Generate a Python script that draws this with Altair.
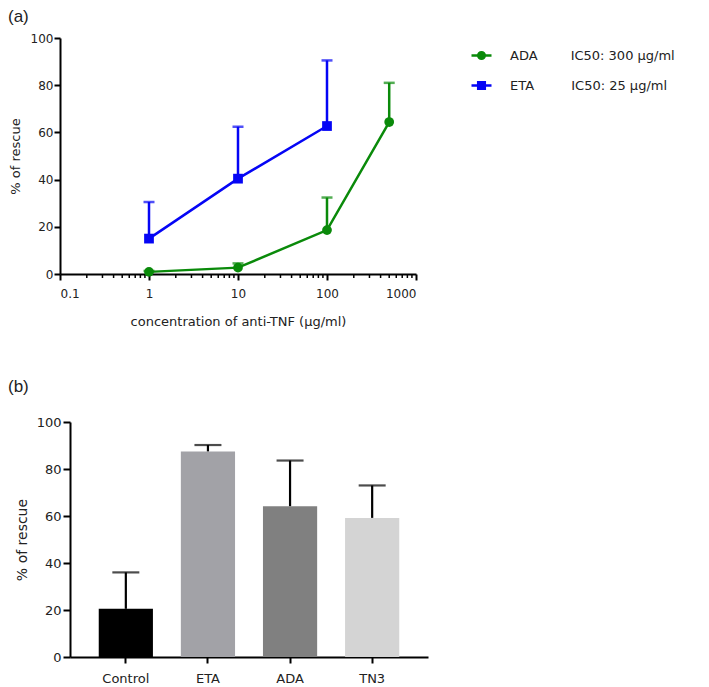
import altair as alt
import pandas as pd

# ---------------- data: panel (a) ----------------
series_a = ["ADA", "ADA", "ADA", "ADA", "ETA", "ETA", "ETA"]
conc_a = [1, 10, 100, 500, 1, 10, 100]
mean_a = [0.9, 2.7, 18.6, 64.4, 15.0, 40.4, 62.7]
upper_a = [1.3, 4.5, 32.4, 81.0, 30.5, 62.4, 90.5]

major_ticks = [0.1, 1, 10, 100, 1000]
minor_ticks = [0.2, 0.3, 0.4, 0.5, 0.6, 0.7, 0.8, 0.9,
               2, 3, 4, 5, 6, 7, 8, 9,
               20, 30, 40, 50, 60, 70, 80, 90,
               200, 300, 400, 500, 600, 700, 800, 900]

NB = "\u00a0"
legend_series = ["ADA", "ETA"]
legend_labels = ["ADA" + NB * 8 + "IC50:" + NB + "300" + NB + "μg/ml",
                 "ETA" + NB * 9 + "IC50:" + NB + "25" + NB + "μg/ml"]

panel_labels = ["(a)", "(b)"]

# ---------------- data: panel (b) ----------------
groups_b = ["Control", "ETA", "ADA", "TN3"]
mean_b = [20.5, 87.5, 64.2, 59.2]
upper_b = [36.0, 90.2, 83.6, 73.0]

GREEN = "#0a8a0a"
BLUE = "#0505f5"
bar_colors = ["#000000", "#a2a2a7", "#808080", "#d4d4d4"]

FONT = "DejaVu Sans"

df_a = pd.DataFrame({"series": series_a, "conc": conc_a, "mean": mean_a, "upper": upper_a})
df_minor = pd.DataFrame({"conc": minor_ticks})
df_leg = pd.DataFrame({"label": legend_labels, "series": legend_series})
df_b = pd.DataFrame({"group": groups_b, "mean": mean_b, "upper": upper_b})

W_A, H_A = 356, 236
SHIFT_B = 10
W_B, H_B = 358 + SHIFT_B, 235

xscale = alt.Scale(type="log", domain=[0.1, 1000])
yscale = alt.Scale(domain=[0, 100], nice=False)
cscale = alt.Scale(domain=legend_series, range=[GREEN, BLUE])

x_enc = alt.X("conc:Q", scale=xscale,
              axis=alt.Axis(values=major_ticks, format="~g", tickSize=6, labelPadding=8,
                            titlePadding=16, labelFontSize=12, titleFontSize=13,
                            title="concentration of anti-TNF (μg/ml)"))
y_enc = alt.Y("mean:Q", scale=yscale,
              axis=alt.Axis(values=[0, 20, 40, 60, 80, 100], tickSize=6, labelPadding=1,
                            titlePadding=8, labelFontSize=12, titleFontSize=13,
                            title="% of rescue"))
col = alt.Color("series:N", scale=cscale, legend=None)

base = alt.Chart(df_a)
lines = base.mark_line(strokeWidth=2.5).encode(x=x_enc, y=y_enc, color=col, detail="series:N")
err = base.mark_rule(strokeWidth=2.5).encode(x="conc:Q", y="mean:Q", y2="upper:Q", color=col)
caps = base.mark_tick(orient="horizontal", size=11, thickness=2.5).encode(
    x="conc:Q", y="upper:Q", color=col)
circles = base.transform_filter("datum.series == 'ADA'").mark_point(
    shape="circle", filled=True, size=95, opacity=1).encode(x="conc:Q", y="mean:Q", color=col)
squares = base.transform_filter("datum.series == 'ETA'").mark_point(
    shape="square", filled=True, size=95, opacity=1).encode(x="conc:Q", y="mean:Q", color=col)
minor = alt.Chart(df_minor).mark_rule(color="black", strokeWidth=1.5).encode(
    x="conc:Q", y=alt.value(H_A), y2=alt.value(H_A + 4))

circle_path = "M-1,0L1,0M-0.33,0A0.33,0.33,0,1,1,0.33,0A0.33,0.33,0,1,1,-0.33,0Z"
square_path = "M-1,0L1,0M-0.33,-0.33L0.33,-0.33L0.33,0.33L-0.33,0.33Z"
lscale_c = alt.Scale(domain=legend_labels, range=[GREEN, BLUE])
leg = alt.Legend(title=None, orient="none", legendX=410, legendY=6, symbolSize=400,
                 symbolStrokeWidth=2.5, labelFont=FONT, labelFontSize=13, labelColor="#222",
                 labelOffset=17, rowPadding=10, padding=0, labelLimit=400)
legend_layer = alt.Chart(df_leg).transform_filter("false").mark_point(filled=True, opacity=1).encode(
    fill=alt.Fill("label:N", scale=lscale_c, legend=leg),
    stroke=alt.Stroke("label:N", scale=lscale_c, legend=leg),
    shape=alt.Shape("label:N", scale=alt.Scale(domain=legend_labels, range=[circle_path, square_path]),
                    legend=leg),
)

label_a = alt.Chart(pd.DataFrame({"t": [panel_labels[0]]})).mark_text(
    font="Liberation Sans", fontSize=17, color="#222", align="left", baseline="middle"
).encode(text="t:N", x=alt.value(-52), y=alt.value(-21))

top = alt.layer(minor, lines, err, caps, circles, squares, legend_layer, label_a).properties(
    width=W_A, height=H_A)

# ---------------- panel (b) ----------------
xb = alt.X("group:N", sort=groups_b,
           scale=alt.Scale(paddingInner=0.34, paddingOuter=0.35, range=[SHIFT_B, W_B]),
           axis=alt.Axis(title=None, labelAngle=0, tickSize=6, labelPadding=9,
                         labelFontSize=13))
yb_axis = alt.Axis(values=[0, 20, 40, 60, 80, 100], tickSize=7, labelPadding=2, offset=-SHIFT_B,
                   titlePadding=7, labelFontSize=13, titleFontSize=14, title="% of rescue")
bars = alt.Chart(df_b).mark_bar().encode(
    x=xb,
    y=alt.Y("mean:Q", scale=yscale, axis=yb_axis),
    color=alt.Color("group:N", scale=alt.Scale(domain=groups_b, range=bar_colors), legend=None),
)
err_b = alt.Chart(df_b).mark_rule(color="black", strokeWidth=2.2).encode(
    x=alt.X("group:N", sort=groups_b), y="mean:Q", y2="upper:Q")
caps_b = alt.Chart(df_b).mark_tick(orient="horizontal", size=27, thickness=2.2, color="black").encode(
    x=alt.X("group:N", sort=groups_b), y="upper:Q")
label_b = alt.Chart(pd.DataFrame({"t": [panel_labels[1]]})).mark_text(
    font="Liberation Sans", fontSize=17, color="#222", align="left", baseline="middle"
).encode(text="t:N", x=alt.value(-52), y=alt.value(-35))

bottom = alt.layer(bars, err_b, caps_b, label_b).properties(width=W_B, height=H_B)

chart = alt.concat(top, bottom, columns=1, spacing=50).resolve_scale(
    color="independent"
).properties(padding=0).configure_view(stroke=None).configure_axis(
    domainColor="black", domainWidth=2, tickColor="black", tickWidth=2,
    labelFont=FONT, titleFont=FONT, labelColor="#222", titleColor="#222",
    titleFontWeight="normal", grid=False,
)

chart.save("out.html", embed_options={"renderer": "svg", "actions": False})
